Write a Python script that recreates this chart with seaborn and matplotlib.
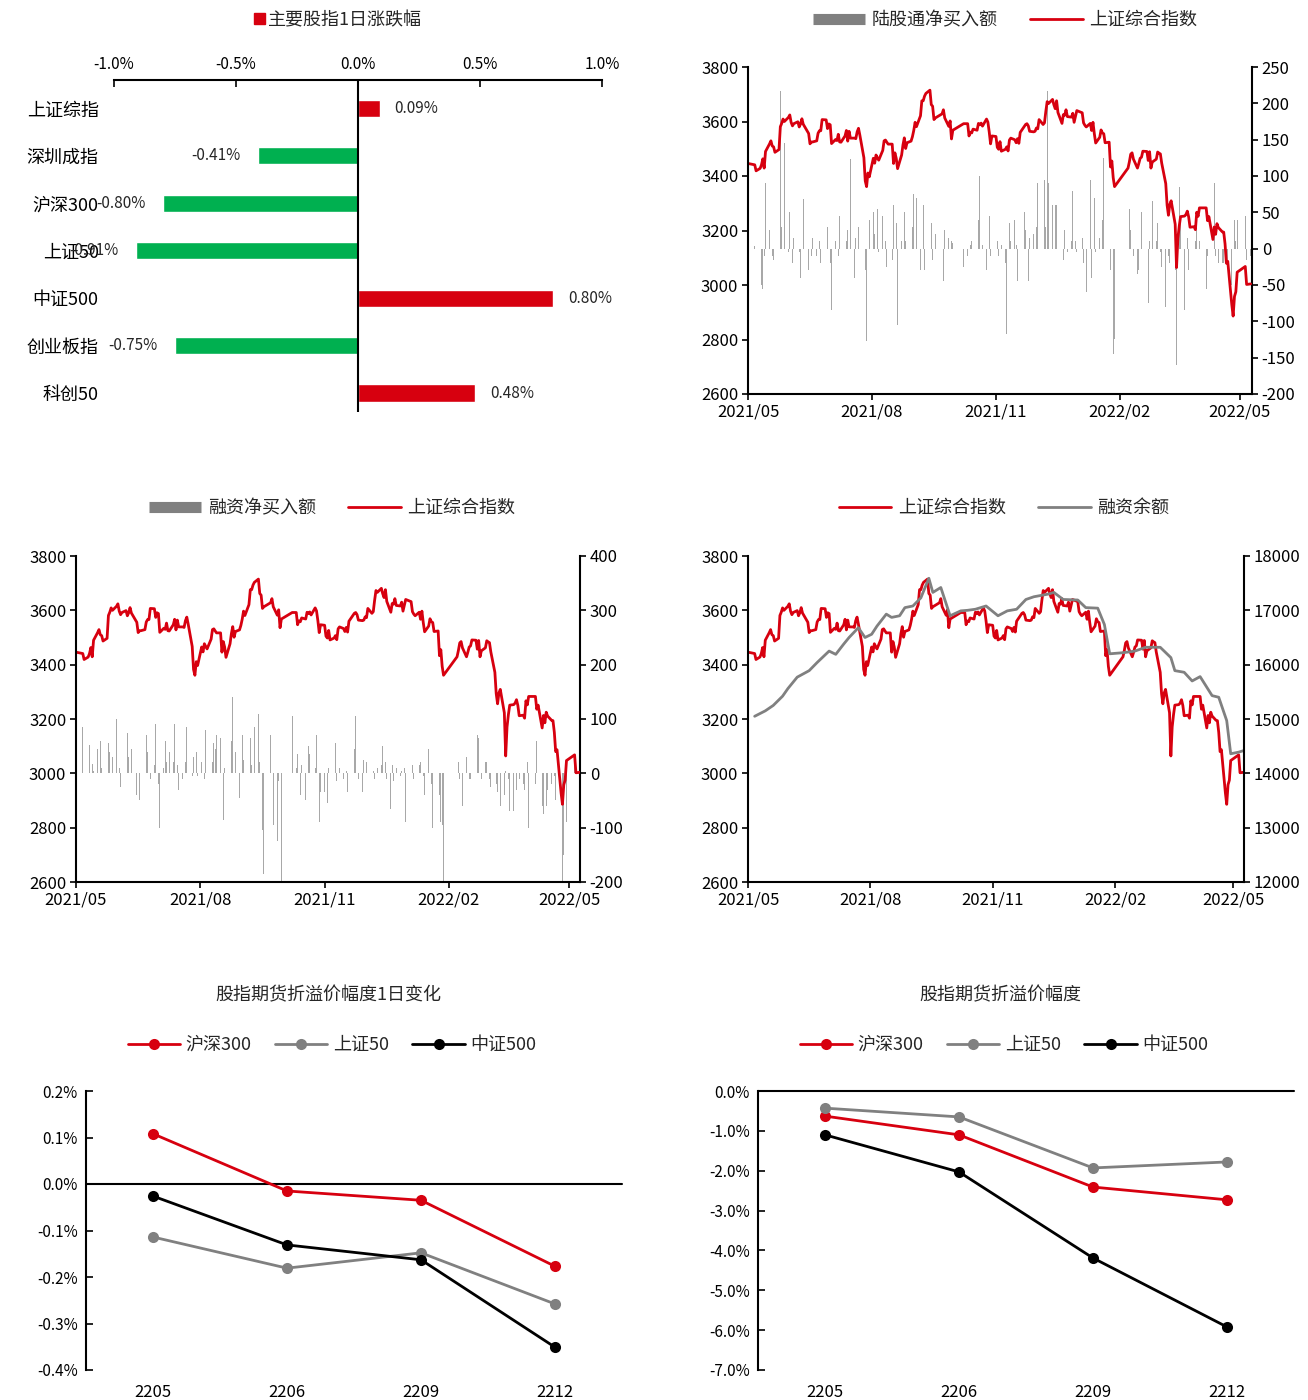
import numpy as np
import pandas as pd
import matplotlib
matplotlib.use("Agg")
import matplotlib.pyplot as plt
import matplotlib.dates as mdates
from matplotlib.lines import Line2D
from matplotlib.patches import Patch
import seaborn as sns

sns.set_theme(style="white")
plt.rcParams["font.family"] = ["Noto Sans CJK SC", "DejaVu Sans"]
plt.rcParams["axes.unicode_minus"] = False

RED = "#D7000F"
GREEN = "#00B050"
GREY = "#808080"
BAR = "#A8A8A8"

# ---------------- data ----------------
# 主要股指1日涨跌幅 (%)
idx_names = ["上证综指", "深圳成指", "沪深300", "上证50", "中证500", "创业板指", "科创50"]
idx_chg = [0.09, -0.41, -0.80, -0.91, 0.80, -0.75, 0.48]

# 上证综合指数 (收盘)
sse_dates = [
    "2021-04-30", "2021-05-06", "2021-05-07", "2021-05-10", "2021-05-11", "2021-05-12", "2021-05-13", "2021-05-14",
    "2021-05-17", "2021-05-18", "2021-05-19", "2021-05-20", "2021-05-21", "2021-05-24", "2021-05-25", "2021-05-26",
    "2021-05-27", "2021-05-28", "2021-05-31",
    "2021-06-01", "2021-06-02", "2021-06-03", "2021-06-04", "2021-06-07", "2021-06-08", "2021-06-09", "2021-06-10",
    "2021-06-11", "2021-06-15", "2021-06-16", "2021-06-17", "2021-06-18", "2021-06-21", "2021-06-22", "2021-06-23",
    "2021-06-24", "2021-06-25", "2021-06-28", "2021-06-29", "2021-06-30",
    "2021-07-01", "2021-07-02", "2021-07-05", "2021-07-06", "2021-07-07", "2021-07-08", "2021-07-09", "2021-07-12",
    "2021-07-13", "2021-07-14", "2021-07-15", "2021-07-16", "2021-07-19", "2021-07-20", "2021-07-21", "2021-07-22",
    "2021-07-23", "2021-07-26", "2021-07-27", "2021-07-28", "2021-07-29", "2021-07-30",
    "2021-08-02", "2021-08-03", "2021-08-04", "2021-08-05", "2021-08-06", "2021-08-09", "2021-08-10", "2021-08-11",
    "2021-08-12", "2021-08-13", "2021-08-16", "2021-08-17", "2021-08-18", "2021-08-19", "2021-08-20", "2021-08-23",
    "2021-08-24", "2021-08-25", "2021-08-26", "2021-08-27", "2021-08-30", "2021-08-31",
    "2021-09-01", "2021-09-02", "2021-09-03", "2021-09-06", "2021-09-07", "2021-09-08", "2021-09-09", "2021-09-10",
    "2021-09-13", "2021-09-14", "2021-09-15", "2021-09-16", "2021-09-17", "2021-09-22", "2021-09-23", "2021-09-24",
    "2021-09-27", "2021-09-28", "2021-09-29", "2021-09-30",
    "2021-10-08", "2021-10-11", "2021-10-12", "2021-10-13", "2021-10-14", "2021-10-15", "2021-10-18", "2021-10-19",
    "2021-10-20", "2021-10-21", "2021-10-22", "2021-10-25", "2021-10-26", "2021-10-27", "2021-10-28", "2021-10-29",
    "2021-11-01", "2021-11-02", "2021-11-03", "2021-11-04", "2021-11-05", "2021-11-08", "2021-11-09", "2021-11-10",
    "2021-11-11", "2021-11-12", "2021-11-15", "2021-11-16", "2021-11-17", "2021-11-18", "2021-11-19", "2021-11-22",
    "2021-11-23", "2021-11-24", "2021-11-25", "2021-11-26", "2021-11-29", "2021-11-30",
    "2021-12-01", "2021-12-02", "2021-12-03", "2021-12-06", "2021-12-07", "2021-12-08", "2021-12-09", "2021-12-10",
    "2021-12-13", "2021-12-14", "2021-12-15", "2021-12-16", "2021-12-17", "2021-12-20", "2021-12-21", "2021-12-22",
    "2021-12-23", "2021-12-24", "2021-12-27", "2021-12-28", "2021-12-29", "2021-12-30", "2021-12-31",
    "2022-01-04", "2022-01-05", "2022-01-06", "2022-01-07", "2022-01-10", "2022-01-11", "2022-01-12", "2022-01-13",
    "2022-01-14", "2022-01-17", "2022-01-18", "2022-01-19", "2022-01-20", "2022-01-21", "2022-01-24", "2022-01-25",
    "2022-01-26", "2022-01-27", "2022-01-28",
    "2022-02-07", "2022-02-08", "2022-02-09", "2022-02-10", "2022-02-11", "2022-02-14", "2022-02-15", "2022-02-16",
    "2022-02-17", "2022-02-18", "2022-02-21", "2022-02-22", "2022-02-23", "2022-02-24", "2022-02-25", "2022-02-28",
    "2022-03-01", "2022-03-02", "2022-03-03", "2022-03-04", "2022-03-07", "2022-03-08", "2022-03-09", "2022-03-10",
    "2022-03-11", "2022-03-14", "2022-03-15", "2022-03-16", "2022-03-17", "2022-03-18", "2022-03-21", "2022-03-22",
    "2022-03-23", "2022-03-24", "2022-03-25", "2022-03-28", "2022-03-29", "2022-03-30", "2022-03-31",
    "2022-04-01", "2022-04-06", "2022-04-07", "2022-04-08", "2022-04-11", "2022-04-12", "2022-04-13", "2022-04-14",
    "2022-04-15", "2022-04-18", "2022-04-19", "2022-04-20", "2022-04-21", "2022-04-22", "2022-04-25", "2022-04-26",
    "2022-04-27", "2022-04-28", "2022-04-29",
    "2022-05-05", "2022-05-06", "2022-05-09",
]
sse_close = [
    3447, 3441, 3419, 3428, 3441, 3463, 3429, 3490,
    3518, 3529, 3510, 3507, 3487, 3497, 3581, 3593,
    3609, 3600, 3615,
    3624, 3597, 3584, 3592, 3599, 3580, 3591, 3610,
    3590, 3556, 3518, 3525, 3525, 3529, 3557, 3566,
    3566, 3607, 3606, 3574, 3591,
    3588, 3519, 3534, 3530, 3553, 3525, 3524, 3547,
    3567, 3528, 3564, 3539, 3539, 3537, 3562, 3575,
    3550, 3467, 3382, 3361, 3411, 3397,
    3465, 3447, 3477, 3467, 3458, 3494, 3529, 3532,
    3524, 3517, 3517, 3446, 3485, 3465, 3427, 3477,
    3514, 3540, 3501, 3522, 3528, 3544,
    3567, 3597, 3581, 3621, 3676, 3676, 3693, 3703,
    3715, 3662, 3656, 3607, 3613, 3628, 3643, 3613,
    3582, 3602, 3536, 3568,
    3592, 3592, 3547, 3561, 3558, 3572, 3568, 3593,
    3588, 3594, 3583, 3609, 3598, 3562, 3518, 3547,
    3545, 3505, 3498, 3526, 3491, 3498, 3507, 3492,
    3532, 3539, 3533, 3522, 3537, 3520, 3560, 3582,
    3589, 3592, 3584, 3564, 3562, 3564,
    3576, 3573, 3607, 3589, 3595, 3637, 3673, 3666,
    3681, 3661, 3647, 3676, 3633, 3593, 3625, 3623,
    3643, 3618, 3616, 3630, 3597, 3619, 3640,
    3632, 3595, 3586, 3580, 3593, 3567, 3597, 3555,
    3521, 3542, 3569, 3558, 3555, 3522, 3524, 3433,
    3455, 3394, 3361,
    3429, 3452, 3480, 3485, 3462, 3429, 3446, 3465,
    3469, 3491, 3490, 3457, 3489, 3429, 3451, 3462,
    3488, 3484, 3481, 3447, 3372, 3293, 3256, 3296,
    3309, 3223, 3064, 3171, 3216, 3251, 3253, 3259,
    3271, 3250, 3212, 3214, 3203, 3267, 3252,
    3283, 3283, 3236, 3251, 3167, 3213, 3186, 3225,
    3211, 3195, 3194, 3151, 3080, 3087, 2928, 2886,
    2958, 2975, 3047,
    3068, 3002, 3004,
]

# 陆股通净买入额 (亿元), one value per weekday 2021-05-06 .. 2022-05-09
north_flow = [
    3, -2, 45, -50, -55, -10, 90, 25, 5, -10, -15, 5, 20, 217, 30, 90, 145, -5,
    50, 10, -20, 15, 30, -5, -40, 20, 68, 0, -30, -50, -10, 15, -10, -20, 10, -20, 80, 140, 30, -28,
    -20, -85, 10, 60, -10, 45, -15, 20, 10, 25, -105, 123, -40, 15, 45, 30, 60, -45, -30, -127, 80, 40,
    50, 20, 10, 55, -5, 45, 15, 10, -25, -10, -15, 60, 15, 35, -105, 10, 20, 50, 10, 25, 60, 30,
    75, 50, 70, -30, 20, 60, -30, -25, 25, 35, -15, -40, 20, 0, 0, -30, -45, 25, 15, 45, 10, 8,
    0, 0, 0, 0, 0, -25, -10, -15, 5, 10, 25, -80, 40, 100, 130, 5, -30, 70, 45, -10, 20,
    10, 10, -10, -20, 5, -20, -117, 85, 35, 10, 40, 5, -45, 80, 0, 50, 25, 10, -45, 15, 20, -20,
    30, 90, 30, 78, 95, 30, 217, 90, 60, 40, 60, 60, -65, -10, -15, 25, 5, -5, 10, 80, 45, 10, -5,
    0, 15, -20, 10, -60, 95, -40, 40, 70, -5, 15, 35, 40, 125, 85, 35, -30, 10, -145, -125, 0,
    0, 0, 0, 0, 15, 55, 25, 45, -10, -35, -30, 20, 50, -35, -70, -75, 10, -20, 65, 10,
    35, -10, -5, -25, -80, -105, -10, -20, -45, -30, -160, 30, 85, 40, -85, -10, 15, -30, -10, -20, 10, 25, 125,
    10, 0, 0, -55, -10, -10, -55, 90, -10, 15, -20, -20, -20, 65, -20, -25, -50, 15, 40, 10, 40,
    0, 0, 0, 45, -15, -10,
]

# 融资净买入额 (亿元), one value per weekday 2021-05-06 .. 2022-05-09
margin_flow = [
    85, -15, 0, 52, 35, 17, 5, 45, 55, 60, 10, -5, 55, 55, 40, 68, 30, 100,
    80, 10, -25, 5, 20, 75, 30, 10, 45, 0, -40, 70, -50, 30, 25, 70, 40, 10, -10, 15, 90, 40,
    -20, -100, 10, 60, 20, 70, 40, 20, 90, 30, 15, -30, -10, 5, 20, 85, -15, -5, 30, -155, 40, -5,
    20, 115, -10, 80, 40, 10, 20, 55, 45, 70, 65, -30, -85, 10, -20, -10, 60, 140, 50, 40, -45, 70,
    70, 25, -65, 90, 65, 15, 110, 85, 110, 20, 40, -105, -185, 0, 0, 70, 45, -95, -125, -15, -105, -230,
    0, 0, 0, 0, 0, 105, 10, 35, -20, -40, 15, -50, 75, 50, 35, -60, 10, 70, 10, -90, -35,
    -35, 45, -55, 10, 45, -100, 55, -15, 25, 10, -10, 20, 5, -35, 40, -15, 45, 105, 35, -10, -35, 25,
    30, 20, -20, -20, 5, -10, 25, 10, 15, 50, -5, 20, -10, -65, 15, -15, -10, 10, -5, 5, 35, 10, -90,
    0, 70, 15, -10, -150, 15, 20, 15, -5, -40, 45, -35, -20, -100, -120, -20, -40, -90, -95, -230, 0,
    0, 0, 0, 0, 35, 20, -10, -5, -60, 30, 15, -10, -10, -35, 20, 70, 65, 20, -10, 20,
    20, 15, -10, -25, 35, -20, -35, -5, -60, -40, 5, -125, -10, -70, -70, 50, -30, -10, -10, -20, -30, -20, 20,
    -100, 0, 0, -20, 60, -25, -60, -75, -75, -60, -30, -20, -10, -5, -50, -90, -130, -230, -150, -130, -90,
    0, 0, 0, 15, -10, 60,
]

# 融资余额 (亿元)
margin_dates = [
    "2021-05-06", "2021-05-14", "2021-05-20", "2021-05-27", "2021-05-31", "2021-06-07", "2021-06-16", "2021-06-22",
    "2021-07-01", "2021-07-06", "2021-07-12", "2021-07-16", "2021-07-23", "2021-07-28", "2021-08-02", "2021-08-06",
    "2021-08-13", "2021-08-17", "2021-08-23", "2021-08-27", "2021-09-02", "2021-09-08", "2021-09-14", "2021-09-17",
    "2021-09-23", "2021-09-30", "2021-10-08", "2021-10-13", "2021-10-19", "2021-10-27", "2021-11-05", "2021-11-12",
    "2021-11-19", "2021-11-26", "2021-12-02", "2021-12-13", "2021-12-17", "2021-12-24", "2022-01-04", "2022-01-10",
    "2022-01-19", "2022-01-24", "2022-01-28", "2022-02-07", "2022-02-16", "2022-02-24", "2022-03-07", "2022-03-15",
    "2022-03-18", "2022-03-25", "2022-03-31", "2022-04-06", "2022-04-15", "2022-04-20", "2022-04-26", "2022-04-29",
    "2022-05-05", "2022-05-09",
]
margin_bal = [
    15050, 15150, 15250, 15420, 15560, 15770, 15890, 16040,
    16250, 16190, 16380, 16500, 16680, 16500, 16560, 16710,
    16930, 16870, 16900, 17050, 17080, 17230, 17590, 17330,
    17420, 16900, 16990, 17000, 17020, 17080, 16900, 16990,
    17020, 17200, 17250, 17300, 17330, 17200, 17190, 17050,
    17040, 16740, 16200, 16220, 16250, 16320, 16320, 16130,
    15890, 15860, 15700, 15780, 15430, 15400, 14970, 14360,
    14390, 14420,
]

# 股指期货折溢价
contracts = ["2205", "2206", "2209", "2212"]
fut_names = ["沪深300", "上证50", "中证500"]
chg_hs300 = [0.108, -0.015, -0.035, -0.177]
chg_sz50 = [-0.114, -0.181, -0.148, -0.258]
chg_zz500 = [-0.026, -0.131, -0.163, -0.351]
lvl_hs300 = [-0.63, -1.10, -2.41, -2.73]
lvl_sz50 = [-0.43, -0.65, -1.93, -1.78]
lvl_zz500 = [-1.10, -2.03, -4.19, -5.92]

# ---------------- helpers ----------------
W, H = 1308, 1400
bar_days = pd.bdate_range("2021-05-06", "2022-05-09")
sse_dt = pd.to_datetime(sse_dates)
margin_dt = pd.to_datetime(margin_dates)


def box(l, t, r, b):
    return [l / W, 1 - b / H, (r - l) / W, (b - t) / H]


def date_axis(ax, end):
    ax.set_xlim(pd.Timestamp("2021-05-01"), pd.Timestamp(end))
    ax.xaxis.set_major_locator(mdates.MonthLocator(bymonth=[2, 5, 8, 11]))
    ax.xaxis.set_major_formatter(mdates.DateFormatter("%Y/%m"))


def style_twin(ax, axr):
    for s in ["top", "right"]:
        ax.spines[s].set_visible(False)
    for s in ["top", "left", "bottom"]:
        axr.spines[s].set_visible(False)
    for sp in [ax.spines["left"], ax.spines["bottom"], axr.spines["right"]]:
        sp.set_color("black")
        sp.set_linewidth(1.5)
    ax.tick_params(left=True, bottom=True, direction="out", length=4, width=1.2,
                   labelsize=12, colors="black", pad=3)
    axr.tick_params(right=True, direction="out", length=4, width=1.2,
                    labelsize=12, colors="black", pad=3)
    ax.set_xlabel("")
    ax.set_ylabel("")
    axr.set_ylabel("")


fig = plt.figure(figsize=(W / 100, H / 100), dpi=100)

# ---------------- 1. 主要股指1日涨跌幅 ----------------
ax1 = fig.add_axes(box(114, 80, 602, 412))
bar_cols = [RED if v > 0 else GREEN for v in idx_chg]
sns.barplot(x=idx_chg, y=idx_names, hue=idx_names, palette=bar_cols, legend=False,
            orient="h", width=0.36, saturation=1, ax=ax1)
ax1.set_xlim(-1, 1)
ax1.set_ylim(6.4, -0.6)
ax1.xaxis.tick_top()
ax1.set_xticks([-1, -0.5, 0, 0.5, 1])
ax1.set_xticklabels(["-1.0%", "-0.5%", "0.0%", "0.5%", "1.0%"])
for s in ["left", "right", "bottom"]:
    ax1.spines[s].set_visible(False)
ax1.spines["top"].set_color("black")
ax1.spines["top"].set_linewidth(1.5)
ax1.axvline(0, color="black", lw=1.5)
ax1.tick_params(axis="x", top=True, direction="in", length=5, width=1.2, labelsize=11,
                colors="black", pad=5)
ax1.tick_params(axis="y", length=0, pad=11, labelsize=13, colors="black")
ax1.set_xlabel("")
ax1.set_ylabel("")
for i, v in enumerate(idx_chg):
    if v > 0:
        ax1.text(v + 0.06, i, f"{v:.2f}%", va="center", ha="left", fontsize=11)
    else:
        ax1.text(v - 0.07, i, f"{v:.2f}%", va="center", ha="right", fontsize=11)
fig.legend([Patch(color=RED)], ["主要股指1日涨跌幅"], loc="center",
           bbox_to_anchor=(338 / W, 1 - 20 / H), frameon=False, fontsize=13,
           handlelength=0.6, handleheight=0.6, handletextpad=0.2)

# ---------------- 2. 陆股通净买入额 ----------------
ax2 = fig.add_axes(box(748, 67, 1252, 394))
ax2r = ax2.twinx()
ax2r.bar(bar_days, north_flow, width=0.5, color=BAR, linewidth=0)
sns.lineplot(x=sse_dt, y=sse_close, color=RED, lw=2, ax=ax2)
ax2.set_zorder(ax2r.get_zorder() + 1)
ax2.patch.set_visible(False)
ax2.set_ylim(2600, 3800)
ax2.set_yticks(range(2600, 3801, 200))
ax2r.set_ylim(-200, 250)
ax2r.set_yticks(range(-200, 251, 50))
date_axis(ax2, "2022-05-10")
style_twin(ax2, ax2r)
fig.legend([Line2D([0], [0], color=GREY, lw=8, solid_capstyle="butt"),
            Line2D([0], [0], color=RED, lw=2)],
           ["陆股通净买入额", "上证综合指数"], loc="center", ncol=2,
           bbox_to_anchor=(1005 / W, 1 - 20 / H), frameon=False, fontsize=13,
           handlelength=2.9, handletextpad=0.35, columnspacing=1.8)

# ---------------- 3. 融资净买入额 ----------------
ax3 = fig.add_axes(box(76, 556, 580, 882))
ax3r = ax3.twinx()
ax3r.bar(bar_days, margin_flow, width=0.5, color=BAR, linewidth=0)
sns.lineplot(x=sse_dt, y=sse_close, color=RED, lw=2, ax=ax3)
ax3.set_zorder(ax3r.get_zorder() + 1)
ax3.patch.set_visible(False)
ax3.set_ylim(2600, 3800)
ax3.set_yticks(range(2600, 3801, 200))
ax3r.set_ylim(-200, 400)
ax3r.set_yticks(range(-200, 401, 100))
date_axis(ax3, "2022-05-09")
style_twin(ax3, ax3r)
fig.legend([Line2D([0], [0], color=GREY, lw=8, solid_capstyle="butt"),
            Line2D([0], [0], color=RED, lw=2)],
           ["融资净买入额", "上证综合指数"], loc="center", ncol=2,
           bbox_to_anchor=(332 / W, 1 - 508 / H), frameon=False, fontsize=13,
           handlelength=2.9, handletextpad=0.35, columnspacing=1.8)

# ---------------- 4. 融资余额 ----------------
ax4 = fig.add_axes(box(748, 556, 1244, 882))
ax4r = ax4.twinx()
sns.lineplot(x=sse_dt, y=sse_close, color=RED, lw=2, ax=ax4)
sns.lineplot(x=margin_dt, y=margin_bal, color=GREY, lw=2, ax=ax4r)
ax4.set_ylim(2600, 3800)
ax4.set_yticks(range(2600, 3801, 200))
ax4r.set_ylim(12000, 18000)
ax4r.set_yticks(range(12000, 18001, 1000))
date_axis(ax4, "2022-05-09")
style_twin(ax4, ax4r)
fig.legend([Line2D([0], [0], color=RED, lw=2), Line2D([0], [0], color=GREY, lw=2)],
           ["上证综合指数", "融资余额"], loc="center", ncol=2,
           bbox_to_anchor=(1004 / W, 1 - 508 / H), frameon=False, fontsize=13,
           handlelength=2.9, handletextpad=0.35, columnspacing=1.8)

# ---------------- 5 & 6. 股指期货折溢价 ----------------
fut_cols = [RED, GREY, "black"]


def fut_panel(rect, series, ylim, step, title, title_x):
    ax = fig.add_axes(rect)
    df = pd.DataFrame({
        "contract": contracts * 3,
        "name": [n for n in fut_names for _ in contracts],
        "value": [v for s in series for v in s],
    })
    sns.lineplot(data=df, x="contract", y="value", hue="name", palette=fut_cols,
                 marker="o", markersize=8, markeredgewidth=0, lw=2, sort=False,
                 legend=False, ax=ax)
    ax.set_xlim(-0.5, 3.5)
    ax.set_ylim(*ylim)
    ticks = np.arange(ylim[0], ylim[1] + step / 2, step)
    ax.set_yticks(ticks)
    ax.set_yticklabels([f"{round(t, 1) + 0:.1f}%" for t in ticks])
    ax.axhline(0, color="black", lw=1.5, clip_on=False, zorder=1)
    for s in ["top", "right", "bottom"]:
        ax.spines[s].set_visible(False)
    ax.spines["left"].set_color("black")
    ax.spines["left"].set_linewidth(1.5)
    ax.tick_params(axis="y", left=True, direction="in", length=5, width=1.2,
                   labelsize=11, colors="black", pad=6)
    ax.tick_params(axis="x", length=0, labelsize=12, colors="black", pad=10)
    ax.set_xlabel("")
    ax.set_ylabel("")
    fig.text(title_x / W, 1 - 995 / H, title, ha="center", va="center", fontsize=13)
    handles = [Line2D([0], [0], color=c, lw=2, marker="o", markersize=8, markeredgewidth=0)
               for c in fut_cols]
    fig.legend(handles, fut_names, loc="center", ncol=3,
               bbox_to_anchor=((title_x + 4) / W, 1 - 1045 / H), frameon=False, fontsize=13,
               handlelength=2.9, handletextpad=0.3, columnspacing=1.3)
    return ax


fut_panel(box(86, 1091, 622, 1370), [chg_hs300, chg_sz50, chg_zz500], (-0.4, 0.2), 0.1,
          "股指期货折溢价幅度1日变化", 328)
fut_panel(box(758, 1091, 1294, 1370), [lvl_hs300, lvl_sz50, lvl_zz500], (-7.0, 0.0), 1.0,
          "股指期货折溢价幅度", 1000)

fig.savefig("out.png", dpi=100)
